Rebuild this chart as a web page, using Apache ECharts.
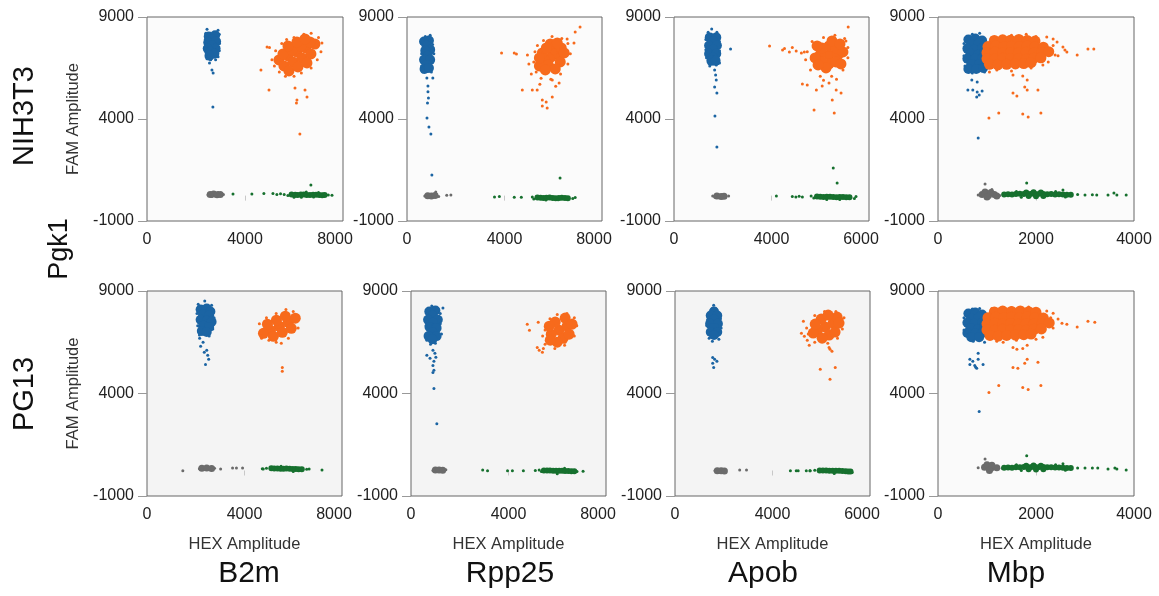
<!DOCTYPE html>
<html>
<head>
<meta charset="utf-8">
<title>ddPCR droplet plots</title>
<script src="https://cdn.jsdelivr.net/npm/echarts@6/dist/echarts.min.js"></script>
<style>
  html, body { margin: 0; padding: 0; background: #fff; }
  #chart { width: 1159px; height: 596px; }
</style>
</head>
<body>
<div id="chart"></div>
<script>
// rows = cell lines, columns = reference genes (HEX), Pgk1 is FAM
var rowNames = ['NIH3T3', 'PG13'];
var colNames = ['B2m', 'Rpp25', 'Apob', 'Mbp'];
var famName = 'Pgk1';
var hexMax = [8000, 8000, 6000, 4000];
// tick texts as printed in the figure (Apob's middle tick reads 4000)
var hexTickLabels = [['0', '4000', '8000'], ['0', '4000', '8000'], ['0', '4000', '6000'], ['0', '2000', '4000']];
var famTicks = [-1000, 4000, 9000];

// ---- NIH3T3 / B2m ----
var n1_neg_core = [[2580,300],[2720,320],[2860,290],[2990,300]];
var n1_neg_out = [[2490,280],[3120,300],[2650,200],[2900,400]];
var n1_hex_core = [[5900,300],[6050,290],[6150,280],[6280,300],[6400,300],[6520,280],[6650,270],[6780,290],[6900,290],[7030,270],[7150,260],[7250,270]];
var n1_hex_out = [[5300,300],[5450,330],[5600,300],[5750,250],[7400,280],[7550,260],[6000,170],[6500,420],[6800,180],[6300,160],[7000,400],[3510,320],[4280,320],[4770,350],[5140,350],[6690,760]];
var n1_fam_core = [[2520,8050],[2780,8100],[2650,7900],[2500,7750],[2820,7800],[2650,7600],[2480,7450],[2800,7450],[2600,7300],[2750,7200],[2550,7100]];
var n1_fam_out = [[2450,8400],[2900,8350],[2400,8200],[2950,8150],[2380,7900],[2960,7700],[2400,7550],[2950,7350],[2420,7200],[2900,7050],[2450,6950],[2600,6900],[2800,6900],[2550,6750],[2650,6400],[2700,6250],[2690,4590]];
var n1_dbl_core = [[5386,6893],[5753,7089],[6120,7285],[6487,7481],[6854,7677],[5549,7187],[5916,7383],[6283,7579],[6650,7775],[5590,6599],[5957,6795],[6324,6991],[6691,7187],[5753,7579],[6120,7775],[6446,7922],[5794,6354],[6161,6550],[6528,6746]];
var n1_dbl_out = [[5000,7500],[5100,6900],[5250,7350],[5200,6600],[5400,6300],[5650,6100],[6000,6100],[6300,6250],[6700,6500],[6950,6900],[7100,7300],[7140,7720],[7000,8000],[6700,8200],[6400,8150],[6000,8000],[5700,7900],[5500,7700],[4650,6400],[4900,7530],[4980,5420],[6040,5520],[6450,5420],[6120,4930],[6100,4780],[6530,5080],[6240,3260]];

// ---- NIH3T3 / Rpp25 ----
var n2_neg_core = [[850,240],[1000,230],[1150,250]];
var n2_neg_out = [[730,220],[1300,200],[1180,420],[1630,260],[1800,280]];
var n2_hex_core = [[5350,150],[5480,140],[5600,130],[5720,140],[5850,150],[5980,130],[6100,120],[6230,130],[6350,140],[6480,130],[6600,120]];
var n2_hex_out = [[5140,180],[5200,80],[6800,100],[6900,150],[5700,30],[6200,40],[3590,180],[3790,200],[4400,160],[4690,160],[6280,1110]];
var n2_fam_core = [[700,7800],[900,7850],[800,7600],[950,7400],[750,7350],[850,7100],[700,6900],[950,6900],[800,6650],[720,6450],[900,6500]];
var n2_fam_out = [[750,8050],[950,8100],[600,7700],[1050,7650],[1100,7200],[600,7200],[1050,6800],[600,6600],[650,6300],[1000,6300],[816,6010],[1060,6010],[860,5620],[860,5330],[880,5030],[840,4780],[820,4050],[900,3610],[980,3260],[1020,1250]];
var n2_dbl_core = [[5920,7040],[6206,7187],[5634,6893],[6042,7432],[5798,6648],[6328,7481],[5553,7236],[6287,6795],[5879,7677],[6165,7726],[5430,6599],[6083,6452],[5675,6403],[6450,7236],[5430,6991],[5716,7481]];
var n2_dbl_out = [[5250,7300],[5200,6800],[5300,6300],[5500,6000],[5900,5950],[6300,6200],[6600,6700],[6700,7200],[6600,7700],[6350,7950],[5950,8050],[5600,7850],[5350,7600],[3880,7230],[4400,7230],[4490,7190],[4940,7140],[4730,5420],[5140,5420],[5340,5420],[5550,4930],[5710,4830],[5550,4640],[5750,4540],[5960,5080],[6900,8260],[7100,8510],[6570,7920],[6850,7720],[6240,5760],[5960,5910],[5100,6200],[5000,6700],[5450,5700],[6100,5600]];

// ---- NIH3T3 / Apob ----
var n3_neg_core = [[1320,220],[1450,200],[1540,210]];
var n3_neg_out = [[1250,180],[1190,230],[1680,230]];
var n3_hex_core = [[4400,200],[4500,190],[4600,180],[4700,190],[4800,190],[4900,180],[5000,170],[5100,180],[5200,180],[5300,170],[5400,160]];
var n3_hex_out = [[4220,230],[4300,130],[5550,100],[5600,200],[4700,50],[5100,60],[3150,230],[3640,200],[3750,180],[3850,210],[3950,180],[4900,1600],[5020,860]];
var n3_fam_core = [[1100,8000],[1300,8000],[1200,7800],[1080,7600],[1320,7600],[1200,7400],[1080,7200],[1300,7200],[1200,7000],[1150,6850],[1280,6850]];
var n3_fam_out = [[1160,8410],[1050,8250],[1320,8250],[980,7900],[1400,7800],[980,7400],[1400,7350],[1000,7000],[1400,6750],[1100,6600],[1300,6650],[1740,7430],[1250,6400],[1280,6160],[1300,5910],[1250,5570],[1320,5270],[1260,4150],[1320,2630]];
var n3_dbl_core = [[4770,7140],[5045,7140],[4495,7140],[4770,7581],[4770,6699],[4984,7483],[4556,7483],[4984,6797],[4556,6797],[5198,7287],[4342,6993],[4862,7826],[4678,6503],[5137,6699],[4403,7581],[5107,7679],[4433,6650]];
var n3_dbl_out = [[4100,7300],[4050,6900],[4200,6400],[4500,6100],[4850,6100],[5200,6400],[5350,7000],[5350,7500],[5250,7950],[4950,8100],[4600,8000],[4250,7800],[2940,7580],[3340,7380],[3400,7450],[3640,7500],[3550,7280],[3760,7330],[3920,7230],[4010,7280],[5290,7820],[5360,8510],[3950,5720],[4100,5670],[4380,5420],[4560,5620],[4990,5420],[5140,5270],[4870,4930],[4310,4440],[4930,4300],[4770,5760],[4600,5900],[5000,5950]];

// ---- NIH3T3 / Mbp ----
var n4_neg_core = [[900,300],[1030,250],[1150,300],[960,420],[1080,400],[1000,180],[1200,220]];
var n4_neg_out = [[820,280],[1260,250],[960,810],[1100,550]];
var n4_hex_core = [[1350,300],[1430,310],[1510,300],[1590,320],[1670,330],[1750,320],[1830,340],[1910,330],[1990,320],[2070,330],[2150,320],[2230,310],[2310,320],[2390,300],[2470,310],[2550,300],[2630,290],[2710,290],
  [1800,400],[1950,410],[2100,400],[1850,220],[2000,210],[2150,220]];
var n4_hex_out = [[2850,300],[3000,280],[3150,290],[3240,280],[1600,450],[2400,450],[2600,180],[1700,170],[1810,860],[2550,520],[3470,270],[3590,370],[3650,270],[3840,270]];
var n4_fam_core = [[620,7900],[760,7950],[900,7850],[680,7650],[830,7700],[600,7450],[740,7400],[900,7450],[660,7200],[820,7150],[940,7250],[600,6950],[760,6950],[900,6950],[680,6700],[840,6700],[620,6450],[780,6450],[920,6500]];
var n4_fam_out = [[700,8150],[850,8200],[530,7700],[980,7600],[530,7100],[990,7000],[550,6600],[950,6300],[700,6250],[690,5910],[800,5810],[610,5420],[710,5420],[800,5320],[900,5370],[790,5080],[840,5180],[820,3070]];
var n4_dbl_core = [[1150,7850],[1320,7880],[1480,7860],[1650,7900],[1820,7850],[1980,7820],
  [1020,7550],[1180,7580],[1340,7540],[1500,7570],[1660,7550],[1820,7580],[1980,7540],[2150,7520],
  [1000,7250],[1160,7280],[1320,7240],[1480,7260],[1640,7230],[1800,7270],[1960,7240],[2120,7260],[2260,7300],
  [1000,6950],[1160,6940],[1320,6980],[1480,6950],[1640,6960],[1800,6930],[1960,6980],[2100,7000],
  [1050,6680],[1220,6650],[1400,6680],[1580,6700],[1750,6720],[1900,6760]];
var n4_dbl_out = [[2300,7300],[2350,7600],[2450,7100],[2430,7770],[2550,7530],[2590,7380],[2630,7280],[2390,7140],[2220,8020],[2350,7920],[2840,7140],[3060,7430],[3180,7430],[1530,6160],[1730,6110],[1820,5910],[1530,5270],[1610,5130],[1770,5570],[1820,5420],[2040,5420],[2140,6650],[1040,4050],[1240,4300],[1730,4250],[1840,4100],[2100,4300],[1100,8000],[1500,8100],[1800,8150],[2000,8050],[1200,6400],[1500,6350],[1900,6500],[2250,6800],[1050,6300]];

// ---- PG13 / B2m ----
var p1_neg_core = [[2250,350],[2450,360],[2650,340]];
var p1_neg_out = [[2150,330],[2770,350],[1470,230],[3020,320],[3510,370],[3670,370],[3920,370]];
var p1_hex_core = [[5100,350],[5220,340],[5350,340],[5480,330],[5600,330],[5720,340],[5850,330],[5980,320],[6100,320],[6220,310],[6350,310]];
var p1_hex_out = [[4730,330],[4900,350],[6550,300],[6650,320],[5500,450],[6000,200],[4770,320],[7180,270]];
var p1_fam_core = [[2200,8100],[2450,8150],[2600,8000],[2300,7850],[2550,7800],[2200,7600],[2450,7550],[2650,7500],[2300,7300],[2550,7250],[2250,7050],[2450,7000]];
var p1_fam_out = [[2370,8510],[2100,8350],[2650,8300],[2050,7900],[2750,7700],[2080,7300],[2700,7150],[2150,6850],[2550,6800],[2160,6700],[2300,6500],[2450,6110],[2350,6010],[2490,5860],[2530,5670],[2400,5420],[2200,6300]];
var p1_dbl_core = [[5430,7280],[5797,7476],[5063,7084],[6083,7672],[4777,6937],[5308,7574],[5675,7770],[4940,7378],[5552,6986],[5920,7182],[5185,6790]];
var p1_dbl_out = [[4610,7400],[4700,6700],[4690,6940],[5000,6600],[5300,6500],[5510,6450],[5800,6700],[6200,7200],[6160,7820],[6000,8000],[5700,8100],[5300,7900],[4900,7700],[5550,5270],[5550,5080]];

// ---- PG13 / Rpp25 ----
var p2_neg_core = [[1000,270],[1150,270],[1300,260]];
var p2_neg_out = [[900,250],[1430,280]];
var p2_hex_core = [[5450,250],[5580,240],[5700,240],[5830,230],[5950,230],[6080,230],[6200,230],[6320,220],[6450,220],[6580,210],[6700,210]];
var p2_hex_out = [[5260,270],[5350,200],[6810,200],[6000,80],[6300,350],[2940,270],[3140,230],[3960,230],[4160,230],[4610,230],[5100,250],[7060,210]];
var p2_fam_core = [[750,8000],[1000,8050],[880,7800],[700,7600],[1100,7600],[900,7450],[760,7250],[1050,7200],[880,7000],[720,6800],[1050,6800],[880,6650]];
var p2_fam_out = [[850,8270],[1310,8170],[650,7900],[1200,7900],[620,7300],[1200,7400],[1250,6900],[650,6600],[1000,6450],[800,6400],[650,5860],[780,5720],[900,6110],[980,5960],[1020,5770],[940,5570],[900,5370],[940,5130],[900,5030],[940,4240],[1060,2530]];
var p2_dbl_core = [[6080,7090],[6406,7286],[5754,6894],[6243,6698],[5917,7482],[5672,7286],[6488,6894],[5998,6502],[6325,7678],[5713,6600],[6610,7384]];
var p2_dbl_out = [[5500,7100],[5400,6800],[5500,6400],[5900,6200],[6300,6350],[6700,6800],[6800,7300],[6700,7700],[6400,7900],[6000,7850],[5700,7650],[4770,7380],[4860,7090],[5220,7480],[5180,6250],[5260,6110],[5430,6200],[5390,6010],[6320,6500],[6610,7580]];

// ---- PG13 / Apob ----
var p3_neg_core = [[1300,230],[1420,230],[1520,220]];
var p3_neg_out = [[1230,230],[1990,270],[2200,270]];
var p3_hex_core = [[4450,250],[4550,240],[4650,240],[4750,230],[4850,230],[4950,230],[5050,230],[5150,220],[5250,210],[5330,200],[5400,200]];
var p3_hex_out = [[4300,260],[4150,230],[5450,150],[4900,100],[3550,230],[3730,230],[3790,230],[4040,230],[4160,230]];
var p3_fam_core = [[1200,8000],[1100,7800],[1300,7800],[1200,7600],[1080,7400],[1320,7400],[1200,7200],[1100,7000],[1300,7000],[1200,6850]];
var p3_fam_out = [[1190,8310],[1150,8150],[1250,8150],[1000,7600],[1400,7650],[980,7300],[1420,7200],[1050,6700],[1350,6650],[1150,6550],[1160,5760],[1220,5670],[1290,5570],[1160,5470],[1190,5270]];
var p3_dbl_core = [[4620,7240],[4865,7436],[4375,7044],[4742,6848],[4498,7632],[4987,7730],[4253,6946],[4926,6995],[4314,7387],[4712,7828],[4528,6701],[5048,7436]];
var p3_dbl_out = [[4050,7200],[4100,6900],[4300,6500],[4700,6450],[5000,6700],[5150,7150],[5200,7700],[5140,7630],[4950,8000],[4600,8000],[4300,7800],[3890,6940],[3980,6790],[4070,6600],[4130,6350],[4740,6250],[4830,6060],[4770,6160],[4470,5180],[4930,5270],[4770,4690],[3950,7530]];

// ---- PG13 / Mbp ----
var p4_neg_core = [[950,400],[1080,350],[1200,380],[1000,520],[1100,500],[1050,250]];
var p4_neg_out = [[820,380],[1310,350],[960,810]];
var p4_hex_core = [[1350,380],[1430,390],[1510,380],[1590,400],[1670,400],[1750,410],[1830,420],[1910,420],[1990,410],[2070,420],[2150,410],[2230,400],[2310,400],[2390,390],[2470,390],[2550,380],[2630,370],[2710,370],
  [1800,480],[1950,490],[2100,480],[1850,300],[2000,290],[2150,300]];
var p4_hex_out = [[2850,370],[3000,360],[3150,370],[3260,360],[1600,520],[2400,520],[2600,260],[1700,250],[1810,960],[2550,570],[3470,320],[3610,370],[3650,320],[3840,270]];
var p4_fam_core = [[620,7900],[760,7950],[900,7850],[680,7650],[830,7700],[600,7450],[740,7400],[900,7450],[660,7200],[820,7150],[940,7250],[600,6950],[760,6950],[900,6950],[680,6750],[840,6750]];
var p4_fam_out = [[700,8120],[850,8150],[530,7700],[980,7600],[530,7100],[990,7000],[590,6840],[950,6500],[720,6550],[820,5960],[650,5670],[710,5570],[820,5670],[920,5420],[650,5420],[750,5370],[790,5230],[770,5280],[840,3120]];
var p4_dbl_core = [[1150,7980],[1320,8020],[1500,8000],[1680,8030],[1850,7990],[2000,7960],
  [1020,7700],[1180,7720],[1340,7690],[1500,7720],[1660,7700],[1820,7730],[1980,7690],[2150,7680],
  [1000,7400],[1160,7430],[1320,7390],[1480,7410],[1640,7380],[1800,7420],[1960,7390],[2120,7410],[2270,7440],
  [1000,7100],[1160,7090],[1320,7130],[1480,7100],[1640,7110],[1800,7080],[1960,7130],[2110,7150],
  [1060,6830],[1230,6800],[1400,6830],[1580,6850],[1750,6870],[1900,6900]];
var p4_dbl_out = [[2450,7630],[2530,7430],[2630,7380],[2840,7240],[3060,7530],[3200,7480],[2220,8020],[2350,7920],[2350,7200],[2300,7700],[1530,6250],[1610,6160],[1730,6200],[1820,6350],[1530,5270],[1630,5230],[1770,5470],[1820,5670],[2040,5520],[1040,4050],[1240,4390],[1730,4290],[1840,4200],[2100,4390],[1330,6500],[2140,6740],[1100,8150],[1500,8200],[1850,8220],[1200,6550],[1600,6600],[2000,6650]];

var panelData = [
  [n1_neg_core, n1_neg_out, n1_hex_core, n1_hex_out, n1_fam_core, n1_fam_out, n1_dbl_core, n1_dbl_out],
  [n2_neg_core, n2_neg_out, n2_hex_core, n2_hex_out, n2_fam_core, n2_fam_out, n2_dbl_core, n2_dbl_out],
  [n3_neg_core, n3_neg_out, n3_hex_core, n3_hex_out, n3_fam_core, n3_fam_out, n3_dbl_core, n3_dbl_out],
  [n4_neg_core, n4_neg_out, n4_hex_core, n4_hex_out, n4_fam_core, n4_fam_out, n4_dbl_core, n4_dbl_out],
  [p1_neg_core, p1_neg_out, p1_hex_core, p1_hex_out, p1_fam_core, p1_fam_out, p1_dbl_core, p1_dbl_out],
  [p2_neg_core, p2_neg_out, p2_hex_core, p2_hex_out, p2_fam_core, p2_fam_out, p2_dbl_core, p2_dbl_out],
  [p3_neg_core, p3_neg_out, p3_hex_core, p3_hex_out, p3_fam_core, p3_fam_out, p3_dbl_core, p3_dbl_out],
  [p4_neg_core, p4_neg_out, p4_hex_core, p4_hex_out, p4_fam_core, p4_fam_out, p4_dbl_core, p4_dbl_out]
];

// layout
var boxes = [
  [147, 17, 196, 204], [407, 17, 195, 204], [674, 17, 195, 204], [938, 17, 196, 204],
  [147, 291, 195, 205], [411, 291, 195, 205], [675, 291, 195, 205], [938, 291, 196, 205]
];
var bgs = ['#fbfbfb', '#fbfbfb', '#fbfbfb', '#fbfbfb', '#f4f4f4', '#f4f4f4', '#f4f4f4', '#fafafa'];
var clusterColors = ['#6b6b6b', '#16702e', '#1b64a3', '#f76a1c'];
var coreSizes = [7, 6, 10, 11];
var font = 'Liberation Sans, Arial, sans-serif';

function hexFormatter(m, labels) {
  return function (v) {
    if (v === 0) return labels[0];
    if (v === m / 2) return labels[1];
    return m === 4000 ? labels[2] : '{r|' + labels[2] + '}';
  };
}

var grids = [], xAxes = [], yAxes = [], series = [];
for (var i = 0; i < 8; i++) {
  var row = Math.floor(i / 4), col = i % 4;
  var b = boxes[i];
  var xm = hexMax[col];
  grids.push({
    left: b[0], top: b[1], width: b[2], height: b[3],
    show: true, backgroundColor: bgs[i], borderColor: '#666', borderWidth: 1
  });
  xAxes.push({
    gridIndex: i, type: 'value', min: 0, max: xm,
    splitLine: { show: false },
    axisLine: { show: false },
    axisTick: { show: true, inside: true, length: 5, customValues: [xm / 2], lineStyle: { color: '#c8c8c8' } },
    axisLabel: {
      fontSize: 16, color: '#222', fontFamily: font, margin: 11,
      customValues: [0, xm / 2, xm],
      formatter: hexFormatter(xm, hexTickLabels[col]),
      rich: { r: { fontSize: 16, color: '#222', fontFamily: font, padding: [0, 16, 0, 0] } }
    },
    name: row === 1 ? 'HEX Amplitude' : '',
    nameLocation: 'middle', nameGap: 40,
    nameTextStyle: { fontSize: 16.5, color: '#333', fontFamily: font }
  });
  yAxes.push({
    gridIndex: i, type: 'value', min: -1000, max: 9000,
    splitLine: { show: false },
    axisLine: { show: false },
    axisTick: { show: true, length: 9, customValues: famTicks, lineStyle: { color: '#999' } },
    axisLabel: {
      fontSize: 16, color: '#222', fontFamily: font, margin: 13, customValues: famTicks,
      formatter: function (v) { return String(v); }
    },
    name: col === 0 ? 'FAM Amplitude' : '',
    nameLocation: 'middle', nameGap: 65,
    nameTextStyle: { fontSize: 16.5, color: '#333', fontFamily: font }
  });
  var d = panelData[i];
  for (var k = 0; k < 4; k++) {
    series.push({
      type: 'scatter', xAxisIndex: i, yAxisIndex: i, data: d[k * 2],
      symbolSize: coreSizes[k], itemStyle: { color: clusterColors[k], opacity: 1 }, silent: true
    });
    series.push({
      type: 'scatter', xAxisIndex: i, yAxisIndex: i, data: d[k * 2 + 1],
      symbolSize: 3, itemStyle: { color: clusterColors[k], opacity: 1 }, silent: true
    });
  }
}

var labelFont = '30px ' + font;
var graphics = [
  { type: 'text', x: 25, y: 116, rotation: Math.PI / 2, style: { text: rowNames[0], font: '29px ' + font, fill: '#111', align: 'center', verticalAlign: 'middle' } },
  { type: 'text', x: 25, y: 394, rotation: Math.PI / 2, style: { text: rowNames[1], font: '29px ' + font, fill: '#111', align: 'center', verticalAlign: 'middle' } },
  { type: 'text', x: 60, y: 249, rotation: Math.PI / 2, style: { text: famName, font: '27px ' + font, fill: '#111', align: 'center', verticalAlign: 'middle' } }
];
var colX = [249, 510, 763, 1016];
for (var c = 0; c < 4; c++) {
  graphics.push({ type: 'text', x: colX[c], y: 574, style: { text: colNames[c], font: labelFont, fill: '#111', align: 'center', verticalAlign: 'middle' } });
}

var chart = echarts.init(document.getElementById('chart'));
chart.setOption({
  animation: false,
  backgroundColor: '#fff',
  grid: grids,
  xAxis: xAxes,
  yAxis: yAxes,
  series: series,
  graphic: graphics
});
</script>
</body>
</html>
